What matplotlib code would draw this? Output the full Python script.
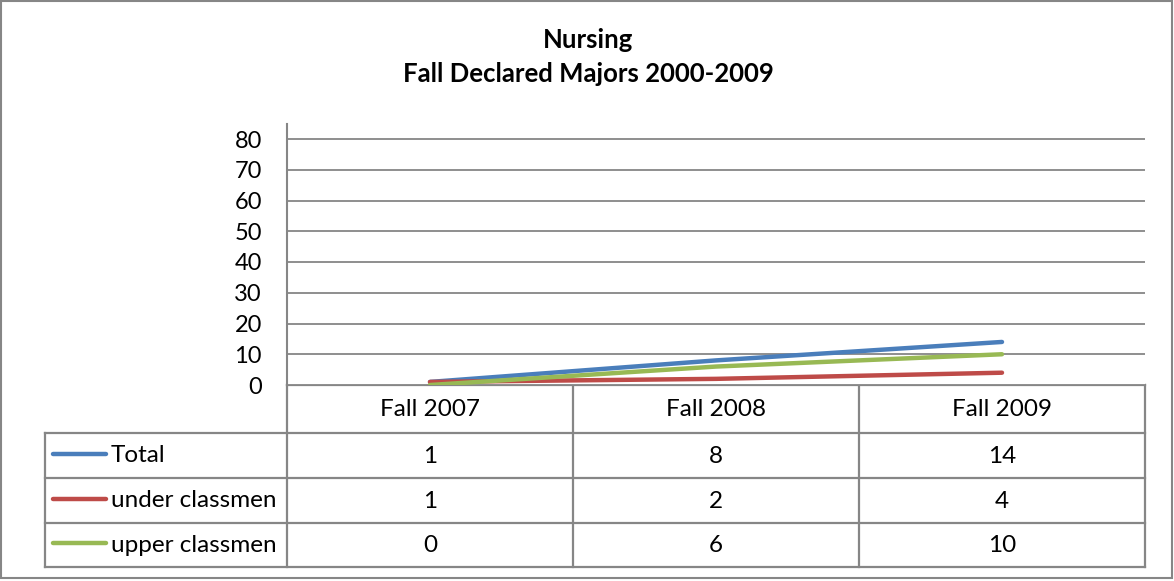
import matplotlib
matplotlib.use("Agg")
import matplotlib.pyplot as plt
from matplotlib.patches import Rectangle

categories = ["Fall 2007", "Fall 2008", "Fall 2009"]
series_names = ["Total", "under classmen", "upper classmen"]
total = [1, 8, 14]
under_classmen = [1, 2, 4]
upper_classmen = [0, 6, 10]
y_ticks = [0, 10, 20, 30, 40, 50, 60, 70, 80]

series_values = [total, under_classmen, upper_classmen]
colors = ["#4A7EBB", "#BE4B48", "#98B954"]
grid_col = "#868686"

plt.rcParams["font.family"] = ["Lato", "DejaVu Sans"]

W, H = 1174, 581
fig = plt.figure(figsize=(W / 100, H / 100), dpi=100)

# plot area in pixel terms
px_left, px_right, px_top, px_bottom = 287, 1145, 124, 385
ax = fig.add_axes([px_left / W, 1 - px_bottom / H,
                   (px_right - px_left) / W, (px_bottom - px_top) / H])
ymax = 80 * (px_bottom - px_top) / (px_bottom - 139)
ax.set_xlim(-0.5, len(categories) - 0.5)
ax.set_ylim(0, ymax)
ax.set_yticks(y_ticks)
ax.set_yticklabels([str(t) for t in y_ticks], fontsize=17)
ax.set_xticks([])
ax.tick_params(axis="y", length=0, pad=18)
for s in ["top", "right", "bottom"]:
    ax.spines[s].set_visible(False)
ax.spines["left"].set_color(grid_col)
ax.spines["left"].set_linewidth(1.5)
ax.grid(axis="y", color=grid_col, linewidth=1.3)
ax.set_axisbelow(True)

xs = list(range(len(categories)))
for vals, c in zip(series_values, colors):
    ax.plot(xs, vals, color=c, linewidth=3.2, solid_capstyle="round", zorder=3)

# overlay for the data table and frame, in pixel coordinates
ov = fig.add_axes([0, 0, 1, 1], zorder=-1)
ov.set_xlim(0, W)
ov.set_ylim(H, 0)
ov.axis("off")
ov.add_patch(Rectangle((1, 1), 1171, 577, fill=False, edgecolor=grid_col, linewidth=1.5))

tbl_left = 45
col_edges = [287, 573, 859, 1145]
row_edges = [385, 433, 478, 523, 567]
lw = 1.6
ov.plot([col_edges[0], col_edges[-1]], [row_edges[0]] * 2, color=grid_col, lw=lw)
for y in row_edges[1:]:
    ov.plot([tbl_left, col_edges[-1]], [y, y], color=grid_col, lw=lw)
ov.plot([tbl_left, tbl_left], [row_edges[1], row_edges[-1]], color=grid_col, lw=lw)
for x in col_edges[1:]:
    ov.plot([x, x], [row_edges[0], row_edges[-1]], color=grid_col, lw=lw)
ov.plot([col_edges[0], col_edges[0]], [row_edges[0], row_edges[-1]], color=grid_col, lw=lw)

fs = 17.5
for i, cat in enumerate(categories):
    cx = (col_edges[i] + col_edges[i + 1]) / 2
    ov.text(cx, (row_edges[0] + row_edges[1]) / 2, cat, ha="center", va="center", fontsize=fs)

for r, (name, vals, c) in enumerate(zip(series_names, series_values, colors)):
    cy = (row_edges[r + 1] + row_edges[r + 2]) / 2
    ov.plot([53, 106], [cy - 2, cy - 2], color=c, lw=3.2, solid_capstyle="round")
    ov.text(111, cy, name, ha="left", va="center", fontsize=fs)
    for i, v in enumerate(vals):
        cx = (col_edges[i] + col_edges[i + 1]) / 2
        ov.text(cx, cy + 1, str(v), ha="center", va="center", fontsize=fs)

fig.text(588 / W, 1 - 57 / H, "Nursing\nFall Declared Majors 2000-2009",
         ha="center", va="center", fontsize=18.5, fontweight="bold", linespacing=1.45)

fig.savefig("out.png", dpi=100, facecolor="white")
